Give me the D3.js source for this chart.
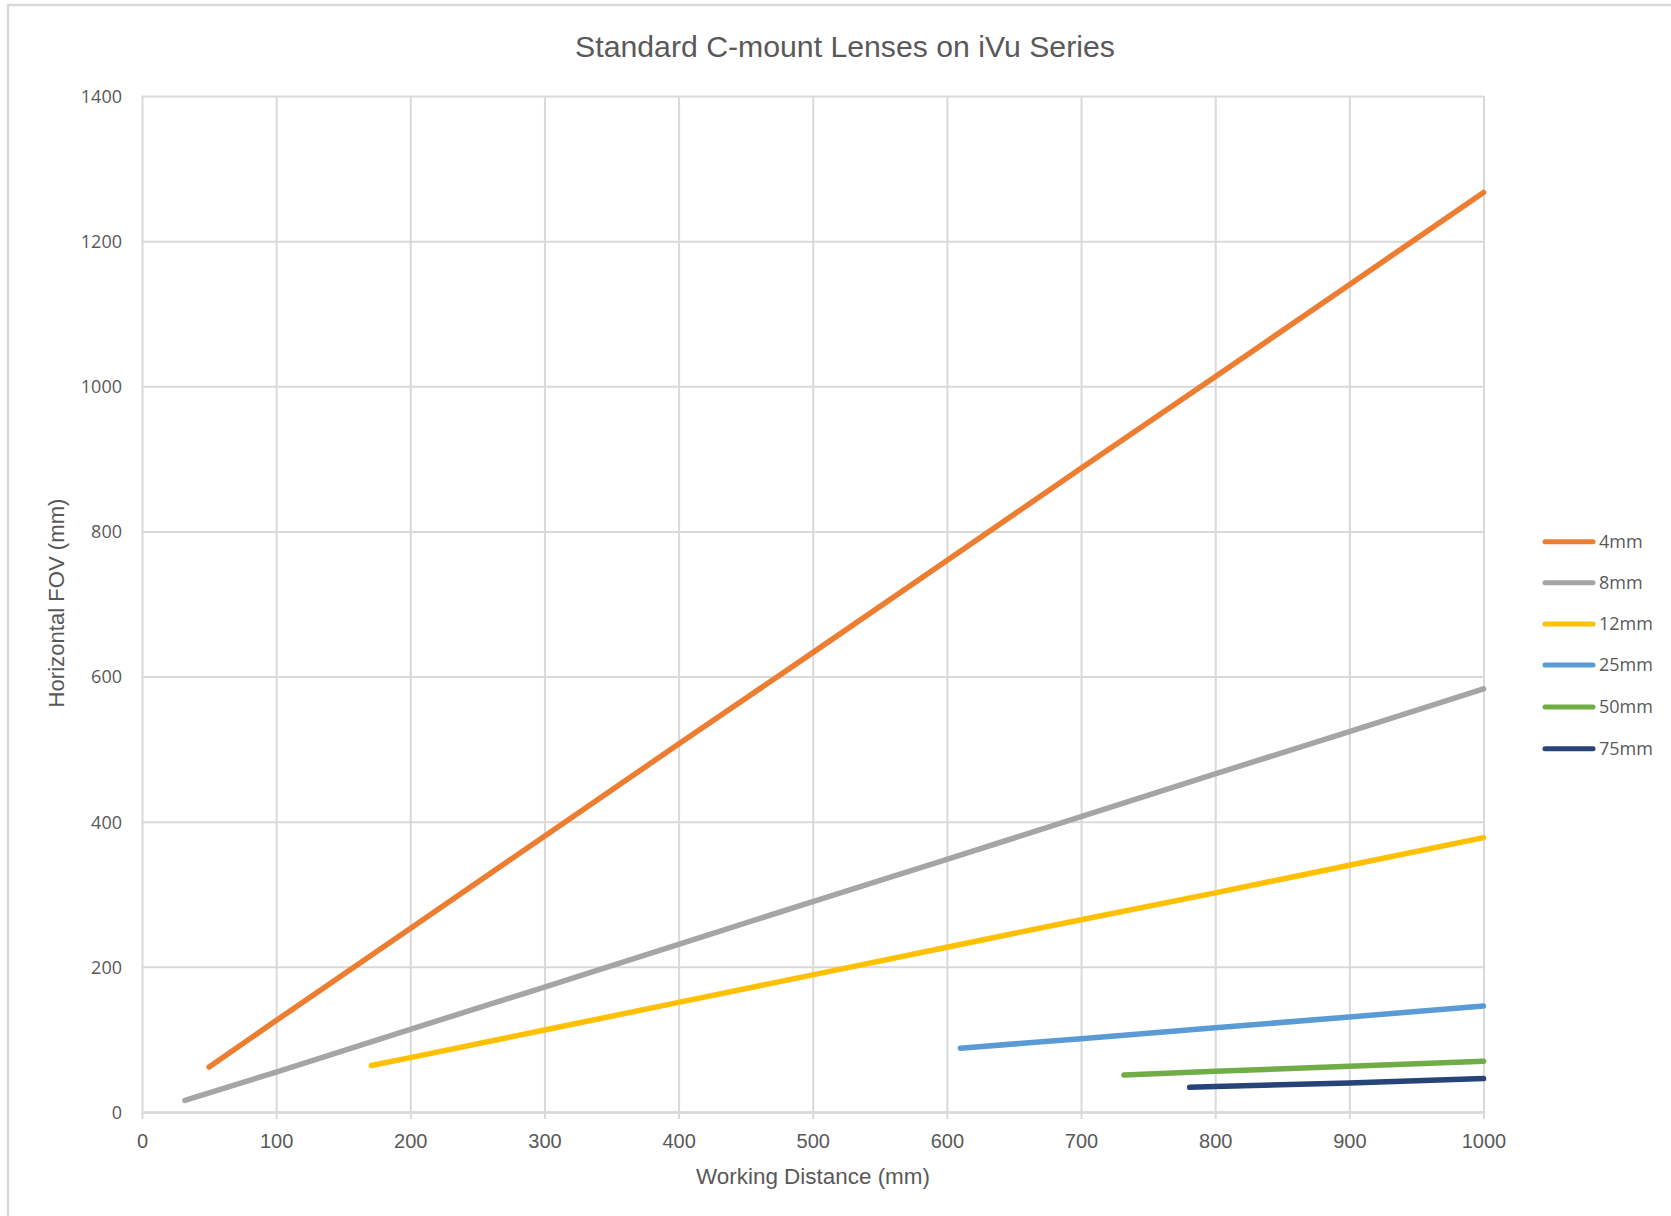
<!DOCTYPE html>
<html><head><meta charset="utf-8">
<script src="https://cdn.jsdelivr.net/npm/d3@7"></script>
<style>body{margin:0;background:#fff;overflow:hidden} svg{display:block}</style>
</head><body>
<script>
// ---- data ----
const chartTitle = "Standard C-mount Lenses on iVu Series";
const xTitle = "Working Distance (mm)";
const yTitle = "Horizontal FOV (mm)";
const xTicks = [0,100,200,300,400,500,600,700,800,900,1000];
const yTicks = [0,200,400,600,800,1000,1200,1400];

const seriesNames = ["4mm","8mm","12mm","25mm","50mm","75mm"];
const seriesColors = ["#ED7D31","#A5A5A5","#FFC000","#5B9BD5","#70AD47","#264478"];

const wd4mm  = [50,100,200,300,400,500,600,700,800,900,1000];
const fov4mm = [62,126,253,380,507,633,760,887,1013,1140,1267];
const wd8mm  = [32,100,200,300,400,500,600,700,800,900,1000];
const fov8mm = [16,55,114,172,231,290,348,407,466,524,583];
const wd12mm  = [171,200,300,400,500,600,700,800,900,1000];
const fov12mm = [64,75,113,151,189,227,265,302,340,378];
const wd25mm  = [610,700,800,900,1000];
const fov25mm = [88,101,116,131,146];
const wd50mm  = [732,800,900,1000];
const fov50mm = [51,56,63,70];
const wd75mm  = [781,800,900,1000];
const fov75mm = [34,35,40,46];

const seriesWD  = [wd4mm, wd8mm, wd12mm, wd25mm, wd50mm, wd75mm];
const seriesFOV = [fov4mm, fov8mm, fov12mm, fov25mm, fov50mm, fov75mm];

// ---- layout ----
const W = 1671, H = 1216;
const plot = {left:142, right:1483.5, top:96, bottom:1112};
const gridColor = "#d9d9d9", textColor = "#595959";
const narrowFont = "'Liberation Sans Narrow','Liberation Sans',Arial,sans-serif";
const wideFont = "'Open Sans','Noto Sans',sans-serif";

const svg = d3.select("body").append("svg").attr("width",W).attr("height",H);
svg.append("rect").attr("width",W).attr("height",H).attr("fill","#fff");
// outer frame
svg.append("rect").attr("x",8).attr("y",5).attr("width",W+50).attr("height",H+50)
  .attr("fill","none").attr("stroke",gridColor).attr("stroke-width",2.5);

const x = d3.scaleLinear().domain([0,1000]).range([plot.left, plot.right]);
const y = d3.scaleLinear().domain([0,1400]).range([plot.bottom, plot.top]);

function fitWidth(sel, target){
  const w = sel.node().getComputedTextLength();
  const fs = parseFloat(sel.attr("font-size"));
  sel.attr("font-size", fs*target/w);
}

// horizontal gridlines
const yAxis = d3.axisLeft(y).tickValues(yTicks).tickSize(-(plot.right-plot.left)).tickFormat("");
const gy = svg.append("g").attr("transform",`translate(${plot.left},0)`).call(yAxis);
gy.select(".domain").remove();
gy.selectAll(".tick line").attr("stroke",gridColor).attr("stroke-width",2);

// vertical gridlines
const xGrid = d3.axisBottom(x).tickValues(xTicks).tickSize(-(plot.bottom-plot.top)).tickFormat("");
const gxg = svg.append("g").attr("transform",`translate(0,${plot.bottom})`).call(xGrid);
gxg.select(".domain").remove();
gxg.selectAll(".tick line").attr("stroke",gridColor).attr("stroke-width",2);

// x axis with small tick marks below
const xAxis = d3.axisBottom(x).tickValues(xTicks).tickSize(7).tickSizeOuter(0).tickFormat(d=>d);
const gx = svg.append("g").attr("transform",`translate(0,${plot.bottom})`).call(xAxis);
gx.select(".domain").attr("stroke",gridColor).attr("stroke-width",2.5);
gx.selectAll(".tick line").attr("stroke",gridColor).attr("stroke-width",2);
gx.selectAll(".tick text").attr("fill",textColor).attr("font-family",narrowFont)
  .attr("font-size",20).attr("y",36).attr("dy",0).attr("dominant-baseline","alphabetic");

// y tick labels
const gyl = svg.append("g").attr("transform",`translate(${plot.left},0)`)
  .call(d3.axisLeft(y).tickValues(yTicks).tickSize(0).tickPadding(20).tickFormat(d=>d));
gyl.select(".domain").remove();
gyl.selectAll(".tick text").attr("fill",textColor).attr("font-family",wideFont).attr("font-size",18)
  .attr("dy","0.35em");

// series
const line = d3.line().x(d=>x(d[0])).y(d=>y(d[1]));
seriesNames.forEach((name,i)=>{
  const pts = seriesWD[i].map((w,j)=>[w, seriesFOV[i][j]]);
  svg.append("path").datum(pts).attr("d",line).attr("fill","none")
    .attr("stroke",seriesColors[i]).attr("stroke-width",5.5)
    .attr("stroke-linecap","round").attr("stroke-linejoin","round");
});

// title
const t = svg.append("text").attr("x",845).attr("y",57).attr("text-anchor","middle")
  .attr("font-family",narrowFont).attr("font-size",30).attr("fill",textColor).text(chartTitle);
fitWidth(t,540);

// axis titles
const xt = svg.append("text").attr("x",813).attr("y",1184).attr("text-anchor","middle")
  .attr("font-family",narrowFont).attr("font-size",24).attr("fill",textColor).text(xTitle);
fitWidth(xt,234);
const yt = svg.append("text").attr("transform","translate(64,603) rotate(-90)").attr("text-anchor","middle")
  .attr("font-family",narrowFont).attr("font-size",24).attr("fill",textColor).text(yTitle);
fitWidth(yt,209);

// legend
const legendY = [541.7,582.7,624,665,707,748.7];
const lg = svg.append("g");
seriesNames.forEach((name,i)=>{
  lg.append("line").attr("x1",1545).attr("x2",1593).attr("y1",legendY[i]).attr("y2",legendY[i])
    .attr("stroke",seriesColors[i]).attr("stroke-width",5).attr("stroke-linecap","round");
  lg.append("text").attr("x",1599).attr("y",legendY[i]).attr("dy","0.35em")
    .attr("font-family",wideFont).attr("font-size",18).attr("fill",textColor).text(name);
});
</script>
</body></html>
